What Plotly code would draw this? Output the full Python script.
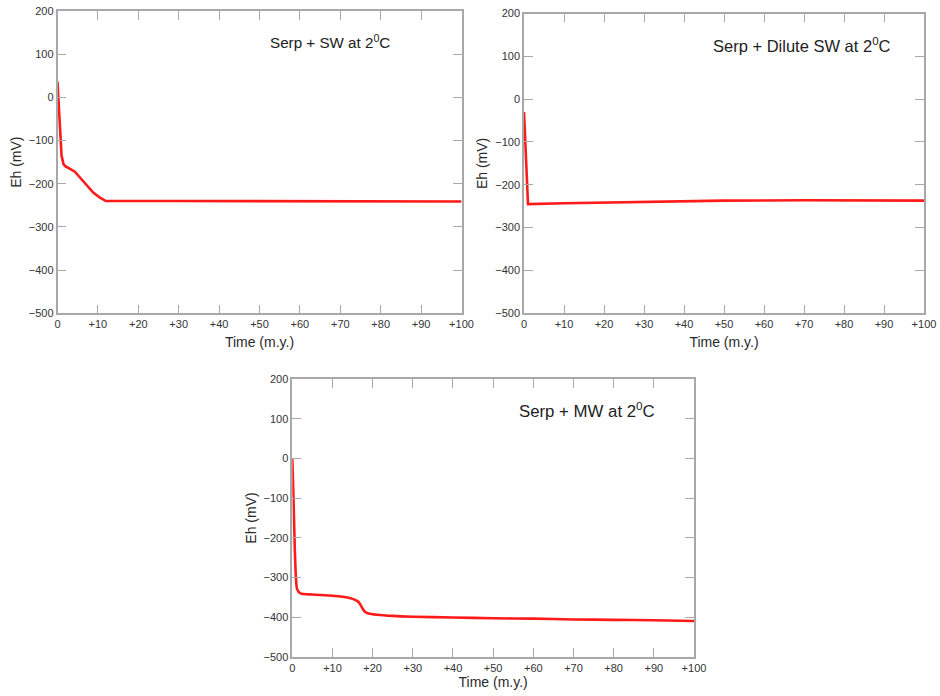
import plotly.graph_objects as go

# --- Data ---
sw_time = [0, 0.3, 0.6, 1.0, 1.5, 2.0, 3.0, 4.3, 5.5, 6.8, 8.9, 10.5, 12.0, 30, 60, 100]
sw_eh = [36, -20, -90, -135, -155, -160, -165, -172, -185, -199, -221, -232, -240, -240, -240, -241]

dsw_time = [0, 0.5, 1.0, 10, 30, 50, 70, 90, 100]
dsw_eh = [-30, -150, -245, -243, -240, -237, -236, -236, -237]

mw_time = [0, 0.3, 0.6, 0.9, 1.2, 2.0, 5, 10, 14, 15.5, 16.5, 17.3, 18, 19, 21, 25, 30,
           40, 50, 60, 70, 80, 90, 100]
mw_eh = [0, -100, -220, -300, -330, -340, -343, -346, -351, -356, -362, -375, -386, -391,
         -394, -397, -399, -401, -403, -404, -406, -407, -408, -410]

x_tickvals = [0, 10, 20, 30, 40, 50, 60, 70, 80, 90, 100]
x_ticktext = ["0", "+10", "+20", "+30", "+40", "+50", "+60", "+70", "+80", "+90", "+100"]
y_tickvals = [200, 100, 0, -100, -200, -300, -400, -500]

titles = ["Serp + SW at 2<sup>0</sup>C", "Serp + Dilute SW at 2<sup>0</sup>C", "Serp + MW at 2<sup>0</sup>C"]

W, H = 940, 696
def px_x(p): return p / W
def px_y(p): return 1 - p / H

fig = go.Figure()
red = "#ff1a1a"
fig.add_trace(go.Scatter(x=sw_time, y=sw_eh, mode="lines", line=dict(color=red, width=2.6),
                         xaxis="x", yaxis="y", showlegend=False))
fig.add_trace(go.Scatter(x=dsw_time, y=dsw_eh, mode="lines", line=dict(color=red, width=2.6),
                         xaxis="x2", yaxis="y2", showlegend=False))
fig.add_trace(go.Scatter(x=mw_time, y=mw_eh, mode="lines", line=dict(color=red, width=2.6, shape="spline", smoothing=0.6),
                         xaxis="x3", yaxis="y3", showlegend=False))

axcol = "#a8a8a8"
tickfont = dict(family="Liberation Sans, Arial", size=11, color="#333333")
titlefont = dict(family="Liberation Sans, Arial", size=14, color="#2a2a2a")

def xax(domain, anchor, standoff=8):
    return dict(domain=domain, anchor=anchor, range=[0, 100], tickvals=x_tickvals, ticktext=x_ticktext,
                ticks="inside", ticklen=9, tickwidth=1.2, tickcolor=axcol, showline=True, linecolor=axcol,
                linewidth=1.5, mirror="ticks", showgrid=False, zeroline=False, tickfont=tickfont,
                automargin=False,
                title=dict(text="Time (m.y.)", font=titlefont, standoff=standoff))

def yax(domain, anchor):
    return dict(domain=domain, anchor=anchor, range=[-500, 200], tickvals=y_tickvals,
                ticks="inside", ticklen=9, tickwidth=1.2, tickcolor=axcol, showline=True, linecolor=axcol,
                linewidth=1.5, mirror="ticks", showgrid=False, zeroline=False, tickfont=tickfont,
                automargin=False,
                title=dict(text="Eh (mV)", font=titlefont, standoff=4))

fig.update_layout(
    width=W, height=H, margin=dict(l=0, r=0, t=0, b=0),
    paper_bgcolor="white", plot_bgcolor="white",
    xaxis=xax([px_x(57.5), px_x(461.5)], "y"),
    yaxis=yax([px_y(313.3), px_y(11)], "x"),
    xaxis2=xax([px_x(524), px_x(924)], "y2"),
    yaxis2=yax([px_y(313.3), px_y(13.5)], "x2"),
    xaxis3=xax([px_x(292.3), px_x(694)], "y3", standoff=2),
    yaxis3=yax([px_y(656.7), px_y(379.3)], "x3"),
)

positions = [(330, 41, 15.2), (802, 45, 16.5), (586.5, 410, 16.8)]
for t, (ax_, ay_, fs) in zip(titles, positions):
    fig.add_annotation(text=t, x=px_x(ax_), y=px_y(ay_), xref="paper", yref="paper",
                       showarrow=False,
                       font=dict(family="Liberation Sans, Arial", size=fs, color="#222222"),
                       xanchor="center", yanchor="middle")

fig.write_html("out.html")
